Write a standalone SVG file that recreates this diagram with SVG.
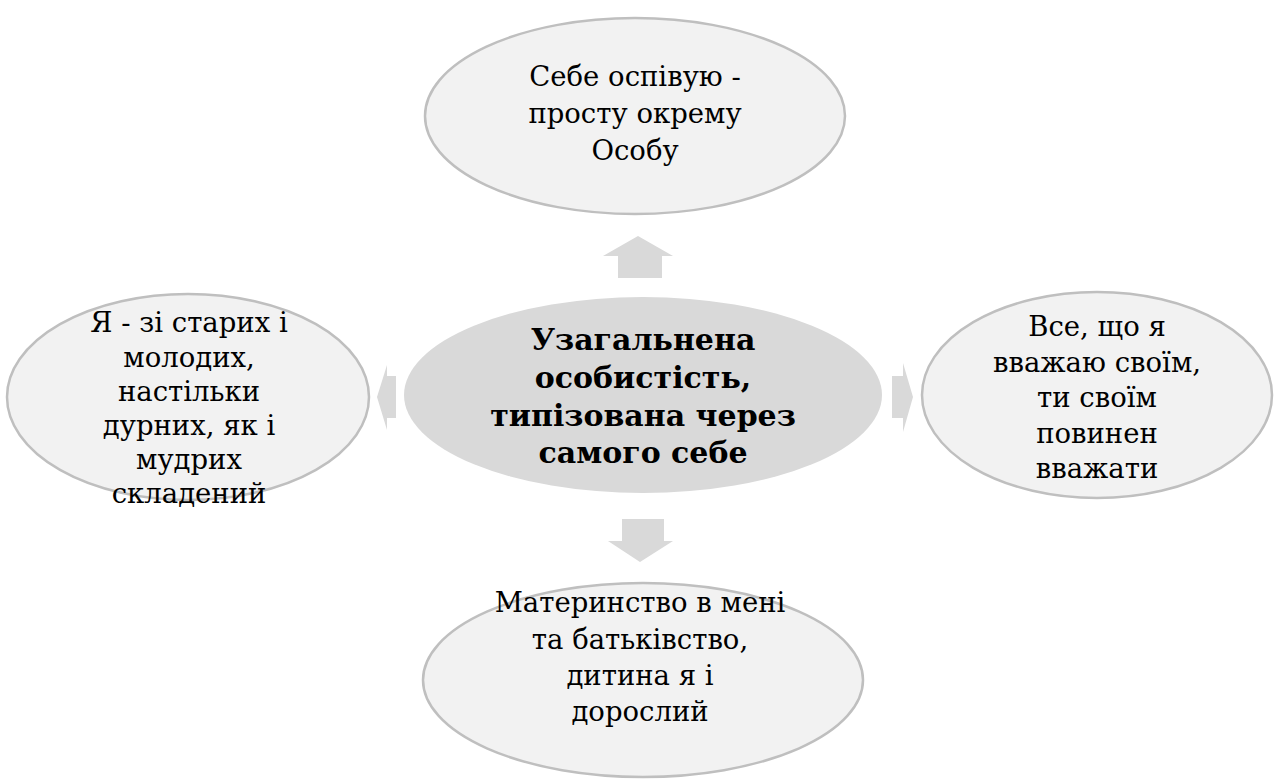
<svg xmlns="http://www.w3.org/2000/svg" width="1278" height="782" viewBox="0 0 1278 782">
<style>
.outer{fill:#f2f2f2;stroke:#bfbfbf;stroke-width:2.5}
.center{fill:#d9d9d9}
.arrow{fill:#d9d9d9}
.t{font-family:"DejaVu Serif",serif;font-size:27.5px;fill:#000;text-anchor:middle}
.tb{font-family:"DejaVu Serif",serif;font-size:30px;font-weight:bold;fill:#000;text-anchor:middle}
</style>
<rect width="1278" height="782" fill="#ffffff"/>
<g id="connectors">
<path class="arrow" d="M638,236 L673,256 L662,256 L662,278 L618,278 L618,256 L603,256 Z"/>
<path class="arrow" d="M622,519 L664,519 L664,541 L673,541 L640,562 L608,541 L622,541 Z"/>
<path class="arrow" d="M377,397 L387,365 L387,376 L396,376 L396,418 L387,418 L387,430 Z"/>
<path class="arrow" d="M913,397 L903,363 L903,376 L892,376 L892,418 L903,418 L903,432 Z"/>
</g>
<g id="node-top">
<ellipse class="outer" cx="635" cy="116" rx="210" ry="98"/>
<text class="t" x="635" y="86">Себе оспівую -</text>
<text class="t" x="635" y="123">просту окрему</text>
<text class="t" x="635" y="160">Особу</text>
</g>
<g id="node-center">
<ellipse class="center" cx="643" cy="395" rx="239" ry="98"/>
<text class="tb" x="643" y="350">Узагальнена</text>
<text class="tb" x="643" y="388">особистість,</text>
<text class="tb" x="643" y="426">типізована через</text>
<text class="tb" x="643" y="463">самого себе</text>
</g>
<g id="node-left">
<ellipse class="outer" cx="188" cy="397" rx="181" ry="103"/>
<text class="t" x="189" y="332">Я - зі старих і</text>
<text class="t" x="189" y="367">молодих,</text>
<text class="t" x="189" y="401">настільки</text>
<text class="t" x="189" y="435">дурних, як і</text>
<text class="t" x="189" y="469">мудрих</text>
<text class="t" x="189" y="503">складений</text>
</g>
<g id="node-right">
<ellipse class="outer" cx="1097" cy="395" rx="175" ry="103"/>
<text class="t" x="1097" y="336">Все, що я</text>
<text class="t" x="1097" y="372">вважаю своїм,</text>
<text class="t" x="1097" y="407">ти своїм</text>
<text class="t" x="1097" y="443">повинен</text>
<text class="t" x="1097" y="478">вважати</text>
</g>
<g id="node-bottom">
<ellipse class="outer" cx="643" cy="680" rx="220" ry="97"/>
<text class="t" x="640" y="612">Материнство в мені</text>
<text class="t" x="640" y="649">та батьківство,</text>
<text class="t" x="640" y="685">дитина я і</text>
<text class="t" x="640" y="721">дорослий</text>
</g>
</svg>
